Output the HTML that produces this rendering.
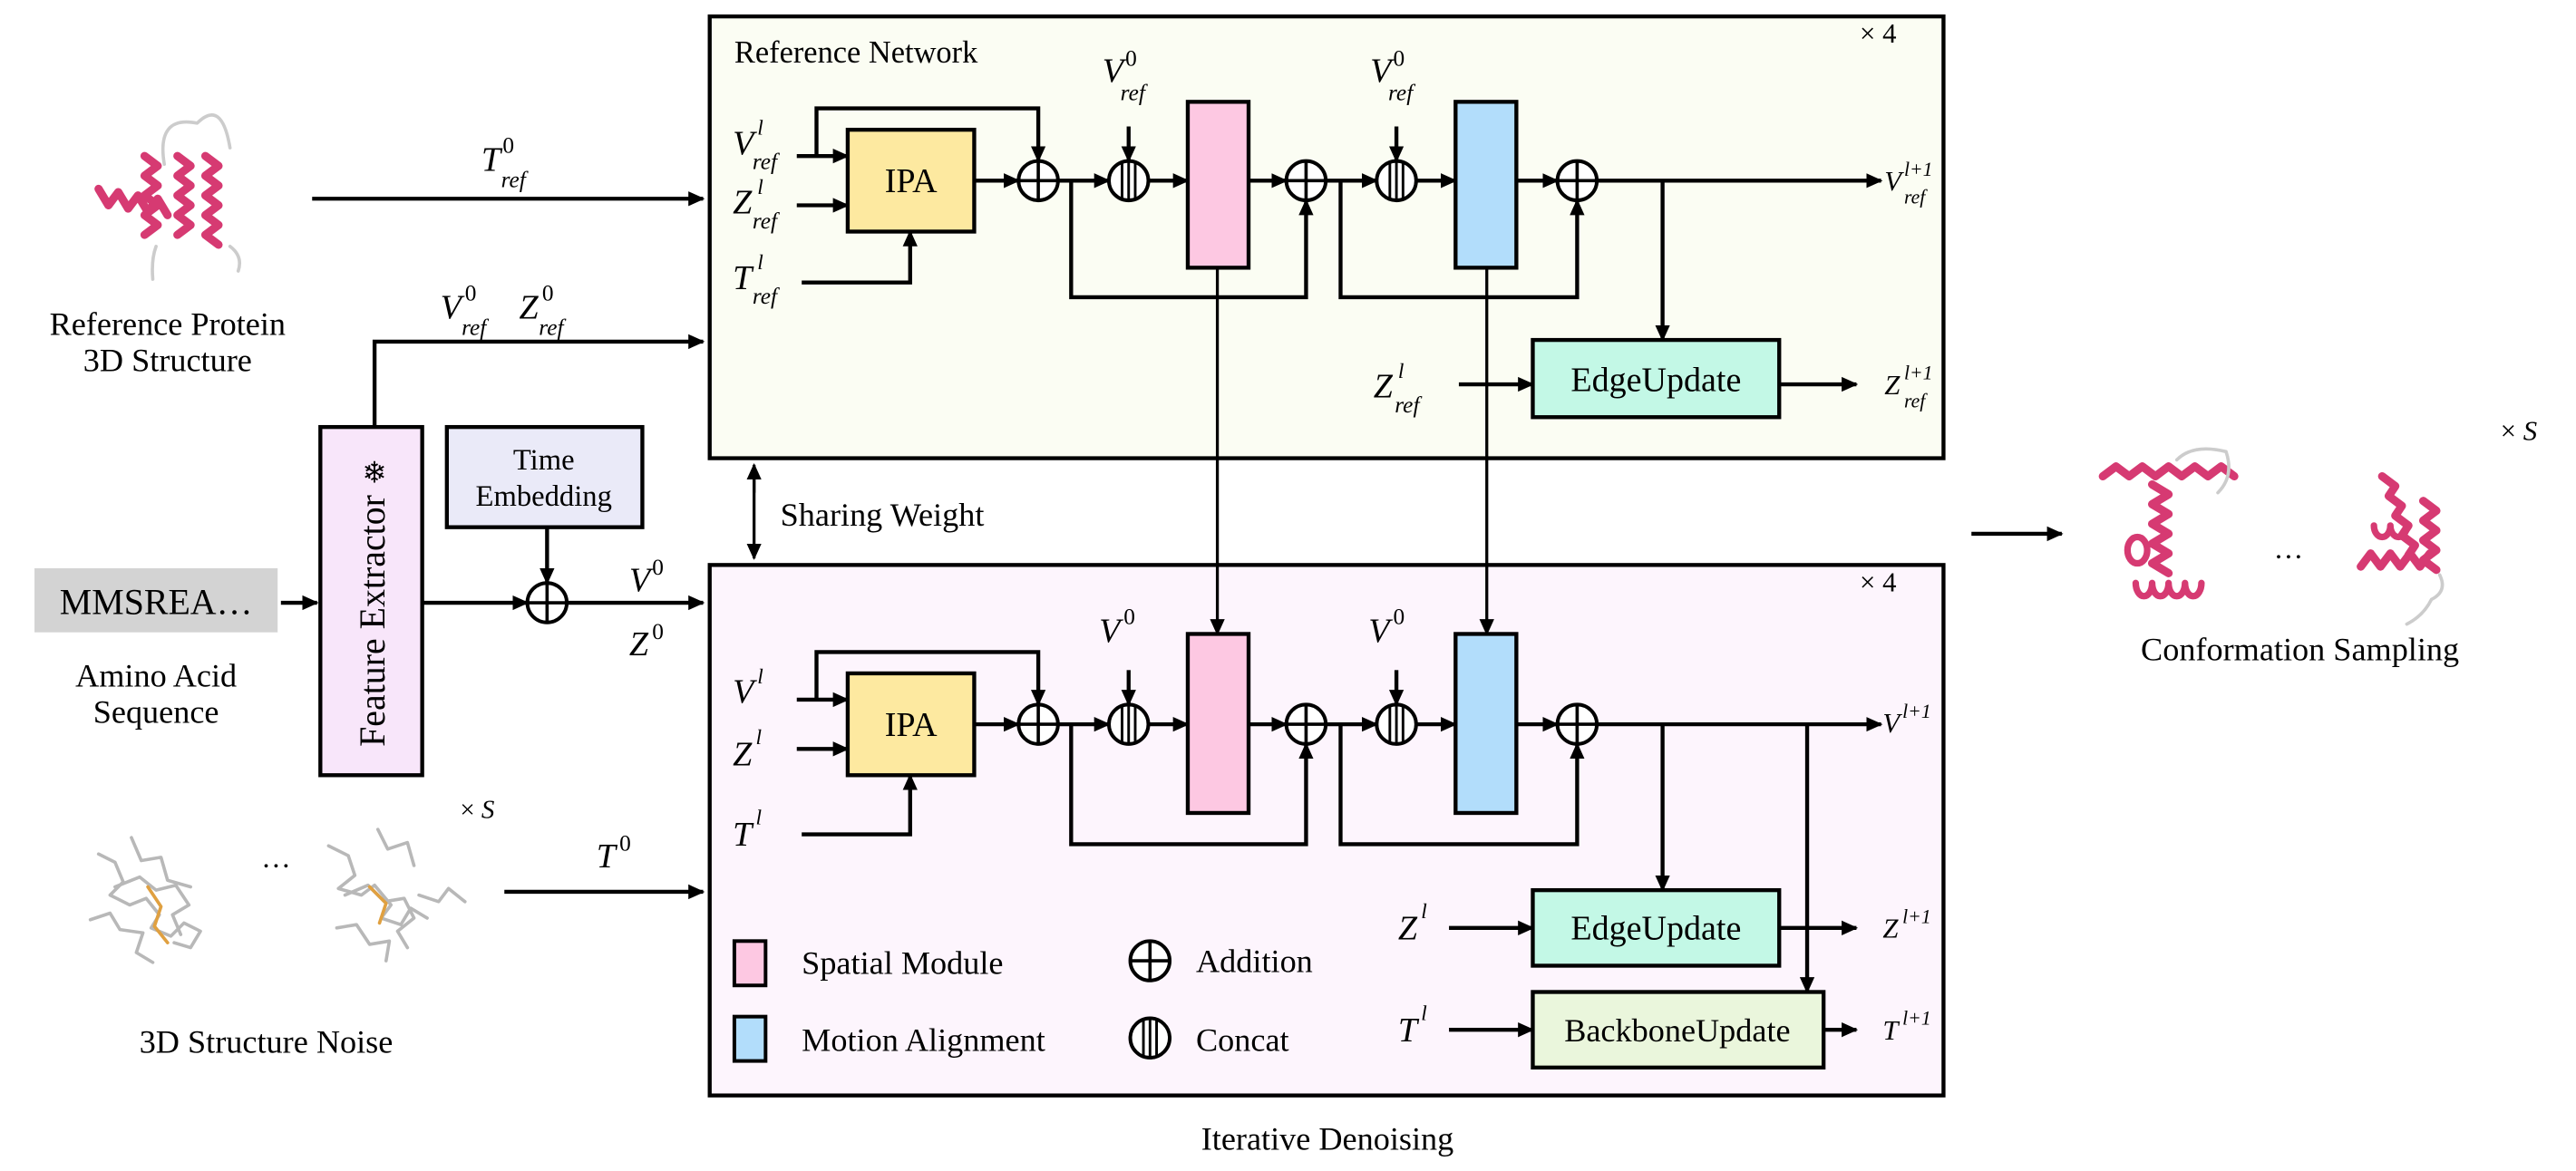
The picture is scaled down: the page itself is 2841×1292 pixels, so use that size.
<!DOCTYPE html>
<html><head><meta charset="utf-8"><style>
html,body{margin:0;padding:0;background:#fff;}
svg{display:block;}
svg text{font-family:"Liberation Serif","Times New Roman",serif !important;fill:#000;}
.i{font-style:italic;}
</style></head><body>
<svg width="2841" height="1292" viewBox="0 0 1568 713" preserveAspectRatio="none" xmlns="http://www.w3.org/2000/svg" font-family="Liberation Serif, serif">
<defs>
<marker id="a" markerUnits="userSpaceOnUse" markerWidth="10" markerHeight="10" refX="9" refY="5" orient="auto"><path d="M0,0.5 L10,5 L0,9.5 z" fill="#000"/></marker>
<g id="add"><circle r="12" fill="#fff" stroke="#000" stroke-width="2.2"/><line x1="-12" y1="0" x2="12" y2="0" stroke="#000" stroke-width="2"/><line x1="0" y1="-12" x2="0" y2="12" stroke="#000" stroke-width="2"/></g>
<g id="cat"><circle r="12" fill="#fff" stroke="#000" stroke-width="2.2"/><line x1="-4" y1="-11" x2="-4" y2="11" stroke="#000" stroke-width="1.6"/><line x1="0" y1="-12" x2="0" y2="12" stroke="#000" stroke-width="1.6"/><line x1="4" y1="-11" x2="4" y2="11" stroke="#000" stroke-width="1.6"/></g>
</defs>

<rect x="432" y="10" width="751" height="269" fill="#fbfdf3" stroke="#000" stroke-width="2.4"/>
<rect x="432" y="344" width="751" height="323" fill="#fdf5fd" stroke="#000" stroke-width="2.4"/>
<text x="447" y="38" font-size="19">Reference Network</text>
<text x="1132" y="26" font-size="17">× 4</text>
<text x="1132" y="360" font-size="17">× 4</text>

<g stroke="#000" stroke-width="2.4" fill="none">
<line x1="485" y1="95" x2="516" y2="95" marker-end="url(#a)"/>
<line x1="485" y1="125" x2="516" y2="125" marker-end="url(#a)"/>
<polyline points="488,172 554,172 554,141" marker-end="url(#a)"/>
<polyline points="497,95 497,66 632,66 632,98" marker-end="url(#a)"/>
<line x1="593" y1="110" x2="620" y2="110" marker-end="url(#a)"/>
<line x1="644" y1="110" x2="675" y2="110" marker-end="url(#a)"/>
<line x1="699" y1="110" x2="723" y2="110" marker-end="url(#a)"/>
<line x1="760" y1="110" x2="783" y2="110" marker-end="url(#a)"/>
<line x1="807" y1="110" x2="838" y2="110" marker-end="url(#a)"/>
<line x1="862" y1="110" x2="886" y2="110" marker-end="url(#a)"/>
<line x1="923" y1="110" x2="948" y2="110" marker-end="url(#a)"/>
<line x1="972" y1="110" x2="1145" y2="110" marker-end="url(#a)"/>
<line x1="687" y1="77" x2="687" y2="98" marker-end="url(#a)"/>
<line x1="850" y1="77" x2="850" y2="98" marker-end="url(#a)"/>
<polyline points="652,110 652,181 795,181 795,122" marker-end="url(#a)"/>
<polyline points="816,110 816,181 960,181 960,122" marker-end="url(#a)"/>
<line x1="1012" y1="110" x2="1012" y2="207" marker-end="url(#a)"/>
<line x1="888" y1="234" x2="933" y2="234" marker-end="url(#a)"/>
<line x1="1083" y1="234" x2="1130" y2="234" marker-end="url(#a)"/>
<line x1="741" y1="163" x2="741" y2="386" marker-end="url(#a)" stroke-width="1.8"/>
<line x1="905" y1="163" x2="905" y2="386" marker-end="url(#a)" stroke-width="1.8"/>

<line x1="485" y1="426" x2="516" y2="426" marker-end="url(#a)"/>
<line x1="485" y1="456" x2="516" y2="456" marker-end="url(#a)"/>
<polyline points="488,508 554,508 554,472" marker-end="url(#a)"/>
<polyline points="497,426 497,397 632,397 632,429" marker-end="url(#a)"/>
<line x1="593" y1="441" x2="620" y2="441" marker-end="url(#a)"/>
<line x1="644" y1="441" x2="675" y2="441" marker-end="url(#a)"/>
<line x1="699" y1="441" x2="723" y2="441" marker-end="url(#a)"/>
<line x1="760" y1="441" x2="783" y2="441" marker-end="url(#a)"/>
<line x1="807" y1="441" x2="838" y2="441" marker-end="url(#a)"/>
<line x1="862" y1="441" x2="886" y2="441" marker-end="url(#a)"/>
<line x1="923" y1="441" x2="948" y2="441" marker-end="url(#a)"/>
<line x1="972" y1="441" x2="1145" y2="441" marker-end="url(#a)"/>
<line x1="687" y1="408" x2="687" y2="429" marker-end="url(#a)"/>
<line x1="850" y1="408" x2="850" y2="429" marker-end="url(#a)"/>
<polyline points="652,441 652,514 795,514 795,453" marker-end="url(#a)"/>
<polyline points="816,441 816,514 960,514 960,453" marker-end="url(#a)"/>
<line x1="1012" y1="441" x2="1012" y2="542" marker-end="url(#a)"/>
<line x1="1100" y1="441" x2="1100" y2="604" marker-end="url(#a)"/>
<line x1="882" y1="565" x2="933" y2="565" marker-end="url(#a)"/>
<line x1="1083" y1="565" x2="1130" y2="565" marker-end="url(#a)"/>
<line x1="882" y1="627" x2="933" y2="627" marker-end="url(#a)"/>
<line x1="1110" y1="627" x2="1130" y2="627" marker-end="url(#a)"/>

<line x1="190" y1="121" x2="428" y2="121" marker-end="url(#a)"/>
<polyline points="228,260 228,208 428,208" marker-end="url(#a)"/>
<line x1="171" y1="367" x2="193" y2="367" marker-end="url(#a)"/>
<line x1="257" y1="367" x2="321" y2="367" marker-end="url(#a)"/>
<line x1="333" y1="321" x2="333" y2="355" marker-end="url(#a)"/>
<line x1="345" y1="367" x2="428" y2="367" marker-end="url(#a)"/>
<line x1="307" y1="543" x2="428" y2="543" marker-end="url(#a)"/>
<line x1="459" y1="300" x2="459" y2="283" marker-end="url(#a)" stroke-width="1.8"/>
<line x1="459" y1="290" x2="459" y2="340" marker-end="url(#a)" stroke-width="1.8"/>
<line x1="1200" y1="325" x2="1255" y2="325" marker-end="url(#a)"/>
</g>

<rect x="516" y="79" width="77" height="62" fill="#fde9a0" stroke="#000" stroke-width="2.4"/>
<text x="554.5" y="117" font-size="21" text-anchor="middle">IPA</text>
<rect x="723" y="62" width="37" height="101" fill="#fdc8e2" stroke="#000" stroke-width="2.4"/>
<rect x="886" y="62" width="37" height="101" fill="#b2ddfb" stroke="#000" stroke-width="2.4"/>
<use href="#add" x="632" y="110"/><use href="#cat" x="687" y="110"/><use href="#add" x="795" y="110"/><use href="#cat" x="850" y="110"/><use href="#add" x="960" y="110"/>
<rect x="933" y="207" width="150" height="47" fill="#c3f8e6" stroke="#000" stroke-width="2.4"/>
<text x="1008" y="238" font-size="21" text-anchor="middle">EdgeUpdate</text>

<rect x="516" y="410" width="77" height="62" fill="#fde9a0" stroke="#000" stroke-width="2.4"/>
<text x="554.5" y="448" font-size="21" text-anchor="middle">IPA</text>
<rect x="723" y="386" width="37" height="109" fill="#fdc8e2" stroke="#000" stroke-width="2.4"/>
<rect x="886" y="386" width="37" height="109" fill="#b2ddfb" stroke="#000" stroke-width="2.4"/>
<use href="#add" x="632" y="441"/><use href="#cat" x="687" y="441"/><use href="#add" x="795" y="441"/><use href="#cat" x="850" y="441"/><use href="#add" x="960" y="441"/>
<rect x="933" y="542" width="150" height="46" fill="#c3f8e6" stroke="#000" stroke-width="2.4"/>
<text x="1008" y="572" font-size="21" text-anchor="middle">EdgeUpdate</text>
<rect x="933" y="604" width="177" height="46" fill="#eaf6dc" stroke="#000" stroke-width="2.4"/>
<text x="1021" y="634" font-size="20" text-anchor="middle">BackboneUpdate</text>

<rect x="447" y="573" width="19" height="27" fill="#fdc8e2" stroke="#000" stroke-width="2.2"/>
<text x="488" y="593" font-size="20">Spatial Module</text>
<rect x="447" y="619" width="19" height="27" fill="#b2ddfb" stroke="#000" stroke-width="2.2"/>
<text x="488" y="640" font-size="20">Motion Alignment</text>
<use href="#add" x="700" y="585"/><text x="728" y="592" font-size="20">Addition</text>
<use href="#cat" x="700" y="632"/><text x="728" y="640" font-size="20">Concat</text>

<text class="i" x="446" y="94" font-size="21">V</text><text class="i" x="461" y="82" font-size="13">l</text><text class="i" x="458" y="103" font-size="14">ref</text>
<text class="i" x="446" y="130" font-size="21">Z</text><text class="i" x="461" y="118" font-size="13">l</text><text class="i" x="458" y="139" font-size="14">ref</text>
<text class="i" x="446" y="176" font-size="21">T</text><text class="i" x="461" y="164" font-size="13">l</text><text class="i" x="458" y="185" font-size="14">ref</text>
<text class="i" x="671" y="50" font-size="21">V</text><text x="685" y="40" font-size="14">0</text><text class="i" x="682" y="61" font-size="14">ref</text>
<text class="i" x="834" y="50" font-size="21">V</text><text x="848" y="40" font-size="14">0</text><text class="i" x="845" y="61" font-size="14">ref</text>
<text class="i" x="1147" y="116" font-size="17">V</text><text class="i" x="1159" y="107" font-size="12">l+1</text><text class="i" x="1159" y="124" font-size="12">ref</text>
<text class="i" x="836" y="242" font-size="21">Z</text><text class="i" x="851" y="230" font-size="13">l</text><text class="i" x="849" y="251" font-size="14">ref</text>
<text class="i" x="1147" y="240" font-size="17">Z</text><text class="i" x="1159" y="231" font-size="12">l+1</text><text class="i" x="1159" y="248" font-size="12">ref</text>

<text class="i" x="446" y="428" font-size="21">V</text><text class="i" x="461" y="416" font-size="13">l</text>
<text class="i" x="446" y="466" font-size="21">Z</text><text class="i" x="460" y="453" font-size="13">l</text>
<text class="i" x="446" y="515" font-size="21">T</text><text class="i" x="460" y="502" font-size="13">l</text>
<text class="i" x="669" y="391" font-size="21">V</text><text x="684" y="380" font-size="14">0</text>
<text class="i" x="833" y="391" font-size="21">V</text><text x="848" y="380" font-size="14">0</text>
<text class="i" x="1146" y="446" font-size="17">V</text><text class="i" x="1158" y="437" font-size="12">l+1</text>
<text class="i" x="851" y="572" font-size="21">Z</text><text class="i" x="865" y="559" font-size="13">l</text>
<text class="i" x="1146" y="571" font-size="17">Z</text><text class="i" x="1158" y="562" font-size="12">l+1</text>
<text class="i" x="851" y="634" font-size="21">T</text><text class="i" x="865" y="621" font-size="13">l</text>
<text class="i" x="1146" y="633" font-size="17">T</text><text class="i" x="1158" y="624" font-size="12">l+1</text>

<text class="i" x="293" y="104" font-size="21">T</text><text x="306" y="93" font-size="14">0</text><text class="i" x="305" y="114" font-size="14">ref</text>
<text class="i" x="268" y="194" font-size="21">V</text><text x="283" y="183" font-size="14">0</text><text class="i" x="281" y="204" font-size="14">ref</text>
<text class="i" x="316" y="194" font-size="21">Z</text><text x="330" y="183" font-size="14">0</text><text class="i" x="328" y="204" font-size="14">ref</text>
<text x="102" y="204" font-size="20" text-anchor="middle">Reference Protein</text>
<text x="102" y="226" font-size="20" text-anchor="middle">3D Structure</text>
<rect x="195" y="260" width="62" height="212" fill="#f8e6fa" stroke="#000" stroke-width="2.4"/>
<text x="0" y="0" font-size="22" transform="translate(234,378) rotate(-90)" text-anchor="middle">Feature Extractor</text>
<text x="228" y="294" font-size="18" text-anchor="middle" fill="#444">❄</text>
<rect x="272" y="260" width="119" height="61" fill="#eaeaf8" stroke="#000" stroke-width="2.4"/>
<text x="331" y="286" font-size="18" text-anchor="middle">Time</text>
<text x="331" y="308" font-size="18" text-anchor="middle">Embedding</text>
<use href="#add" x="333" y="367"/>
<text class="i" x="383" y="360" font-size="21">V</text><text x="397" y="350" font-size="14">0</text>
<text class="i" x="383" y="399" font-size="21">Z</text><text x="397" y="389" font-size="14">0</text>
<rect x="21" y="346" width="148" height="39" fill="#d3d3d3"/>
<text x="95" y="374" font-size="22" text-anchor="middle">MMSREA…</text>
<text x="95" y="418" font-size="20" text-anchor="middle">Amino Acid</text>
<text x="95" y="440" font-size="20" text-anchor="middle">Sequence</text>
<text class="i" x="363" y="528" font-size="21">T</text><text x="377" y="518" font-size="14">0</text>
<text x="280" y="498" font-size="16">× <tspan class="i">S</tspan></text>
<text x="162" y="641" font-size="20" text-anchor="middle">3D Structure Noise</text>
<text x="475" y="320" font-size="20">Sharing Weight</text>
<text x="808" y="700" font-size="20" text-anchor="middle">Iterative Denoising</text>
<text x="1400" y="402" font-size="20" text-anchor="middle">Conformation Sampling</text>
<text x="1522" y="268" font-size="17">× <tspan class="i">S</tspan></text>
<text x="1393" y="340" font-size="18" text-anchor="middle">…</text>
<text x="168" y="528" font-size="18" text-anchor="middle">…</text>

<g fill="none" stroke-linecap="round" stroke-linejoin="round">
<path d="M100,100 Q95,70 120,75 Q135,60 140,90" stroke="#ccc" stroke-width="2"/>
<path d="M88,95 l8,6 l-8,6 l8,6 l-8,6 l8,6 l-8,6 l8,6 l-8,6" stroke="#d63a72" stroke-width="5"/>
<path d="M108,95 l8,6 l-8,6 l8,6 l-8,6 l8,6 l-8,6 l8,6 l-8,6" stroke="#d63a72" stroke-width="5"/>
<path d="M125,95 l8,6 l-8,6 l8,6 l-8,6 l8,6 l-8,6 l8,6 l-8,6 l8,6" stroke="#d63a72" stroke-width="5"/>
<path d="M60,115 l6,10 l6,-8 l6,10 l6,-8 l6,10 l6,-8 l6,10" stroke="#d63a72" stroke-width="5"/>
<path d="M140,150 q8,6 5,15 M95,150 q-3,8 -2,20" stroke="#ccc" stroke-width="2"/>

<path d="M1280,290 l8,-6 l8,6 l8,-6 l8,6 l8,-6 l8,6 l8,-6 l8,6 l8,-6 l8,6" stroke="#d63a72" stroke-width="5"/>
<path d="M1310,295 l10,6 l-10,6 l10,6 l-10,6 l10,6 l-10,6 l10,6 l-10,6 l10,6" stroke="#d63a72" stroke-width="5"/>
<path d="M1300,355 a5,8 0 1 0 10,0 a5,8 0 1 0 10,0 a5,8 0 1 0 10,0 a5,8 0 1 0 10,0" stroke="#d63a72" stroke-width="4"/>
<path d="M1295,335 a6,8 0 1 0 12,0 a6,8 0 1 0 -12,0" stroke="#d63a72" stroke-width="4"/>
<path d="M1325,280 q10,-10 30,-5 q5,15 -5,25" stroke="#ccc" stroke-width="2"/>
<path d="M1450,290 l8,6 l-4,6 l8,6 l-4,6 l8,6 l-4,6 l8,6 l-4,6" stroke="#d63a72" stroke-width="5"/>
<path d="M1475,305 l8,6 l-8,6 l8,6 l-8,6 l8,6 l-8,6 l8,6" stroke="#d63a72" stroke-width="5"/>
<path d="M1437,345 l6,-8 l6,8 l6,-8 l6,8 l6,-8 l6,8 l6,-8" stroke="#d63a72" stroke-width="5"/>
<path d="M1445,320 a5,7 0 1 0 10,0 a5,7 0 1 0 10,0" stroke="#d63a72" stroke-width="4"/>
<path d="M1485,350 q5,10 -5,15 q-5,10 -15,15" stroke="#ccc" stroke-width="2"/>

<path d="M60,520 l10,5 l5,12 l-8,8 l12,6 l10,-4 l8,10 l-5,8 l12,5 l8,-8 l10,5 l-6,10 l-10,-3 M70,540 l15,-6 l10,8 l12,-3 l8,12 l-10,6 l5,12 M55,560 l12,-4 l6,10 l14,2 l-4,12 l10,6 M80,510 l6,14 l12,-2 l4,14 l14,4" stroke="#b8b8b8" stroke-width="2"/>
<path d="M90,540 l8,12 l-4,12 l8,10" stroke="#e0a040" stroke-width="2"/>
<path d="M200,515 l12,6 l4,12 l-10,8 l14,4 l8,-6 l10,12 l-6,8 l12,4 l6,-10 l10,6 M210,545 l14,-6 l10,10 l12,-2 l6,12 l-10,8 l6,10 M205,565 l12,-2 l8,12 l12,-2 l-2,12 M230,505 l6,12 l12,-4 l4,14 M255,545 l12,4 l6,-8 l10,8" stroke="#b8b8b8" stroke-width="2"/>
<path d="M225,540 l10,10 l-4,12" stroke="#e0a040" stroke-width="2"/>
</g>
</svg>
</body></html>
